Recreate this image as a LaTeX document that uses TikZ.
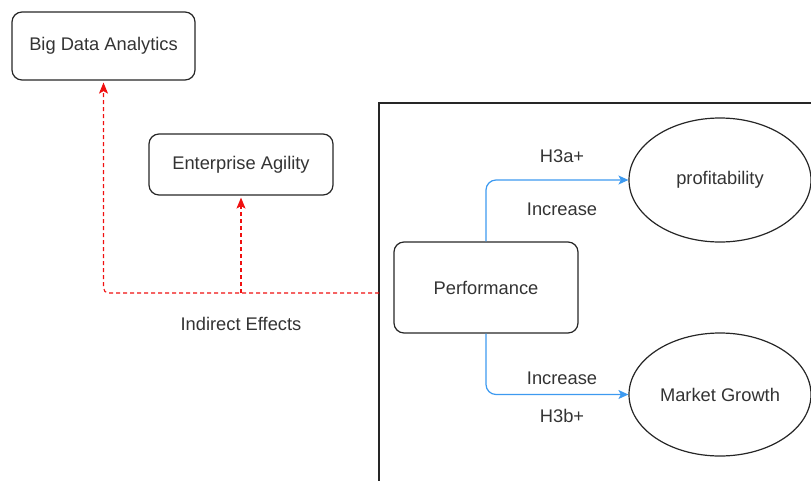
\documentclass[tikz,border=0pt]{standalone}
\usepackage{fontspec}
\setmainfont{Liberation Sans}
\usetikzlibrary{shapes.geometric,arrows.meta}
\definecolor{txt}{HTML}{333333}
\definecolor{linkblue}{HTML}{3D9AF0}
\definecolor{effred}{HTML}{F01010}
\tikzset{
  box/.style={draw=black!85, line width=1.2pt, rounded corners=10pt, text=txt,
    font=\fontsize{18.3}{21}\selectfont, inner sep=0pt},
  oval/.style={draw=black!85, line width=1.2pt, ellipse, text=txt,
    font=\fontsize{18.3}{21}\selectfont, inner sep=0pt},
  lbl/.style={text=txt, font=\fontsize{18.3}{21}\selectfont, inner sep=0pt},
  effect/.style={draw=effred, line width=1.1pt, dash pattern=on 4pt off 3pt,
    rounded corners=5pt, shorten >=2pt,
    -{Stealth[length=11pt,width=9pt,inset=2.5pt,fill=effred]}},
  link/.style={draw=linkblue, line width=1.2pt, rounded corners=10pt,
    -{Stealth[length=10pt,width=9pt,inset=2.5pt]}},
}
\begin{document}
\begin{tikzpicture}[x=1pt,y=-1pt]
  \useasboundingbox (0,0) rectangle (811,480);
  \clip (0,0) rectangle (811,480);

  % enclosing frame around the performance block
  \draw[black!85, line width=1.2pt] (379,103) rectangle (840,520);

  % boxes
  \node[box, minimum width=183pt, minimum height=68pt] (bda) at (103.5,46) {Big Data Analytics};
  \node[box, minimum width=184pt, minimum height=61pt] (ea) at (241,164.5) {Enterprise Agility};
  \node[box, minimum width=184pt, minimum height=91pt] (perf) at (486,287.5) {Performance};

  % outcome ovals
  \node[oval, minimum width=182pt, minimum height=124pt] (prof) at (720,180) {profitability};
  \node[oval, minimum width=182pt, minimum height=123pt] (mg) at (720,394.5) {Market Growth};

  % indirect effects (dashed, red)
  \coordinate (src) at (379,293);
  \coordinate (junc) at (241,293);
  \draw[effect] (src) -| (bda.south);
  \draw[effect] (junc) -- (ea.south);
  \node[lbl] (ie) at (241,324) {Indirect Effects};

  % hypothesised links (blue)
  \draw[link] (perf.north) |- (prof.west);
  \draw[link] (perf.south) |- (mg.west);
  \node[lbl] (h3a) at (562,156) {H3a+};
  \node[lbl] (inc1) at (562,209) {Increase};
  \node[lbl] (inc2) at (562,378) {Increase};
  \node[lbl] (h3b) at (562,416) {H3b+};
\end{tikzpicture}
\end{document}
